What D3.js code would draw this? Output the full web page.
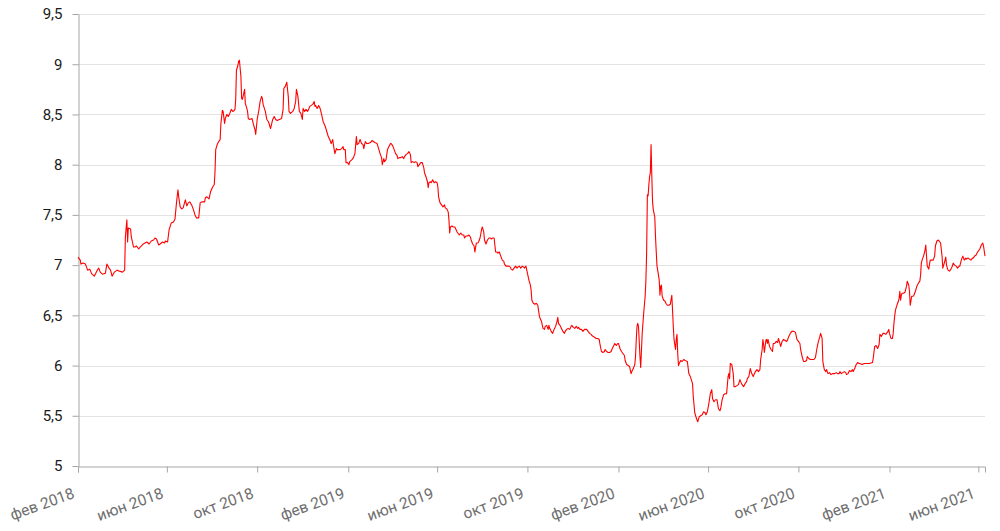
<!DOCTYPE html>
<html><head><meta charset="utf-8">
<script src="https://cdn.jsdelivr.net/npm/d3@7"></script>
<style>body{margin:0;background:#fff}svg{display:block}</style>
</head><body><svg id="c" width="1000" height="531"></svg>
<script>
const d2018=[["2018-02-01",7.08],["2018-02-04",7.05],["2018-02-05",7.01],["2018-02-08",7.02],["2018-02-11",7.01],["2018-02-14",6.95],["2018-02-17",6.96],["2018-02-19",6.92],["2018-02-20",6.91],["2018-02-23",6.89],["2018-02-27",6.95],["2018-03-01",6.97],["2018-03-03",6.93],["2018-03-06",6.91],["2018-03-10",6.92],["2018-03-12",7.01],["2018-03-15",6.97],["2018-03-17",6.95],["2018-03-19",6.89],["2018-03-22",6.93],["2018-03-26",6.95],["2018-03-29",6.94],["2018-04-02",6.93],["2018-04-05",6.95],["2018-04-06",7.28],["2018-04-08",7.45],["2018-04-09",7.23],["2018-04-10",7.37],["2018-04-13",7.36],["2018-04-14",7.28],["2018-04-17",7.18],["2018-04-19",7.18],["2018-04-21",7.19],["2018-04-24",7.16],["2018-04-26",7.18],["2018-04-30",7.21],["2018-05-05",7.23],["2018-05-08",7.21],["2018-05-11",7.24],["2018-05-14",7.25],["2018-05-16",7.27],["2018-05-18",7.26],["2018-05-21",7.2],["2018-05-23",7.21],["2018-05-26",7.23],["2018-05-29",7.22],["2018-05-30",7.24],["2018-06-02",7.23],["2018-06-04",7.35],["2018-06-07",7.42],["2018-06-10",7.43],["2018-06-12",7.46],["2018-06-14",7.62],["2018-06-16",7.75],["2018-06-17",7.68],["2018-06-19",7.58],["2018-06-21",7.56],["2018-06-23",7.57],["2018-06-26",7.65],["2018-06-28",7.59],["2018-06-30",7.62],["2018-07-02",7.63],["2018-07-05",7.59],["2018-07-07",7.55],["2018-07-09",7.5],["2018-07-11",7.47],["2018-07-14",7.47],["2018-07-16",7.62],["2018-07-18",7.63],["2018-07-22",7.63],["2018-07-23",7.67],["2018-07-25",7.68],["2018-07-28",7.66],["2018-07-30",7.73],["2018-08-02",7.78],["2018-08-04",7.8],["2018-08-05",7.92],["2018-08-06",8.15],["2018-08-08",8.2],["2018-08-10",8.23],["2018-08-12",8.25],["2018-08-13",8.41],["2018-08-15",8.54],["2018-08-16",8.53],["2018-08-18",8.41],["2018-08-19",8.46],["2018-08-21",8.5],["2018-08-23",8.48],["2018-08-25",8.51],["2018-08-27",8.55],["2018-08-29",8.53],["2018-08-31",8.54],["2018-09-01",8.55],["2018-09-02",8.65],["2018-09-03",8.94],["2018-09-05",8.99],["2018-09-06",9.03],["2018-09-07",9.04],["2018-09-09",8.88],["2018-09-10",8.66],["2018-09-11",8.65],["2018-09-12",8.68],["2018-09-14",8.75],["2018-09-15",8.61],["2018-09-17",8.56],["2018-09-18",8.53],["2018-09-19",8.46],["2018-09-21",8.45],["2018-09-24",8.46],["2018-09-26",8.4],["2018-09-28",8.35],["2018-09-29",8.3],["2018-10-01",8.45],["2018-10-03",8.53],["2018-10-05",8.63],["2018-10-07",8.68],["2018-10-08",8.66],["2018-10-09",8.6],["2018-10-12",8.53],["2018-10-14",8.45],["2018-10-16",8.43],["2018-10-17",8.41],["2018-10-19",8.36],["2018-10-22",8.45],["2018-10-24",8.48],["2018-10-26",8.45],["2018-10-28",8.44],["2018-10-31",8.45],["2018-11-03",8.46],["2018-11-05",8.55],["2018-11-06",8.76],["2018-11-08",8.78],["2018-11-10",8.82],["2018-11-12",8.68],["2018-11-13",8.53],["2018-11-15",8.51],["2018-11-18",8.53],["2018-11-20",8.56],["2018-11-22",8.63],["2018-11-23",8.75],["2018-11-25",8.68],["2018-11-27",8.53],["2018-11-29",8.51],["2018-12-01",8.45],["2018-12-02",8.56],["2018-12-04",8.53],["2018-12-06",8.55],["2018-12-08",8.53],["2018-12-10",8.56],["2018-12-11",8.58],["2018-12-13",8.59],["2018-12-15",8.6],["2018-12-17",8.63],["2018-12-18",8.58],["2018-12-19",8.59],["2018-12-21",8.56],["2018-12-23",8.59],["2018-12-25",8.56],["2018-12-27",8.5],["2018-12-29",8.43]];

const d2019=[["2019-01-01",8.38],["2019-01-03",8.33],["2019-01-05",8.28],["2019-01-07",8.25],["2019-01-09",8.21],["2019-01-11",8.25],["2019-01-13",8.15],["2019-01-14",8.11],["2019-01-16",8.16],["2019-01-17",8.15],["2019-01-19",8.15],["2019-01-21",8.15],["2019-01-23",8.16],["2019-01-25",8.18],["2019-01-26",8.15],["2019-01-28",8.15],["2019-01-29",8.02],["2019-01-31",8.02],["2019-02-02",8.0],["2019-02-03",8.03],["2019-02-06",8.05],["2019-02-08",8.07],["2019-02-10",8.11],["2019-02-12",8.28],["2019-02-13",8.2],["2019-02-15",8.21],["2019-02-17",8.25],["2019-02-19",8.21],["2019-02-21",8.2],["2019-02-22",8.16],["2019-02-24",8.23],["2019-02-26",8.21],["2019-02-28",8.21],["2019-03-03",8.22],["2019-03-05",8.24],["2019-03-07",8.23],["2019-03-09",8.22],["2019-03-12",8.21],["2019-03-14",8.16],["2019-03-16",8.11],["2019-03-18",8.07],["2019-03-19",8.0],["2019-03-21",8.06],["2019-03-22",8.03],["2019-03-24",8.05],["2019-03-26",8.15],["2019-03-28",8.18],["2019-03-30",8.21],["2019-03-31",8.21],["2019-04-02",8.19],["2019-04-04",8.15],["2019-04-06",8.11],["2019-04-08",8.09],["2019-04-09",8.06],["2019-04-11",8.07],["2019-04-13",8.07],["2019-04-15",8.08],["2019-04-17",8.06],["2019-04-18",8.08],["2019-04-20",8.1],["2019-04-22",8.11],["2019-04-24",8.13],["2019-04-26",8.1],["2019-04-27",8.02],["2019-04-29",8.03],["2019-05-01",8.02],["2019-05-03",8.03],["2019-05-05",8.02],["2019-05-06",7.98],["2019-05-08",8.0],["2019-05-10",8.02],["2019-05-12",8.02],["2019-05-14",7.97],["2019-05-15",7.92],["2019-05-17",7.88],["2019-05-19",7.83],["2019-05-20",7.77],["2019-05-21",7.82],["2019-05-23",7.83],["2019-05-24",7.82],["2019-05-26",7.85],["2019-05-28",7.82],["2019-05-30",7.83],["2019-06-01",7.82],["2019-06-02",7.78],["2019-06-03",7.68],["2019-06-05",7.62],["2019-06-07",7.6],["2019-06-09",7.58],["2019-06-11",7.6],["2019-06-12",7.57],["2019-06-14",7.56],["2019-06-16",7.53],["2019-06-17",7.45],["2019-06-18",7.32],["2019-06-19",7.38],["2019-06-21",7.39],["2019-06-23",7.38],["2019-06-25",7.38],["2019-06-28",7.33],["2019-06-29",7.32],["2019-07-01",7.3],["2019-07-03",7.32],["2019-07-05",7.3],["2019-07-07",7.3],["2019-07-08",7.27],["2019-07-10",7.29],["2019-07-12",7.29],["2019-07-14",7.3],["2019-07-16",7.28],["2019-07-17",7.25],["2019-07-19",7.21],["2019-07-21",7.19],["2019-07-22",7.13],["2019-07-24",7.22],["2019-07-26",7.22],["2019-07-27",7.23],["2019-07-29",7.27],["2019-07-31",7.35],["2019-08-01",7.38],["2019-08-03",7.33],["2019-08-04",7.25],["2019-08-06",7.21],["2019-08-08",7.25],["2019-08-10",7.27],["2019-08-12",7.27],["2019-08-13",7.26],["2019-08-15",7.27],["2019-08-17",7.27],["2019-08-19",7.13],["2019-08-21",7.13],["2019-08-22",7.12],["2019-08-24",7.13],["2019-08-26",7.09],["2019-08-28",7.05],["2019-08-30",7.04],["2019-08-31",7.01],["2019-09-02",6.99],["2019-09-04",6.99],["2019-09-06",6.99],["2019-09-08",6.98],["2019-09-09",6.96],["2019-09-11",6.95],["2019-09-13",6.97],["2019-09-15",6.99],["2019-09-17",6.97],["2019-09-18",6.98],["2019-09-20",6.99],["2019-09-22",6.97],["2019-09-24",6.99],["2019-09-26",6.98],["2019-09-27",6.97],["2019-09-29",6.99],["2019-10-01",6.92],["2019-10-03",6.85],["2019-10-05",6.8],["2019-10-06",6.75],["2019-10-07",6.65],["2019-10-09",6.62],["2019-10-11",6.61],["2019-10-13",6.62],["2019-10-15",6.6],["2019-10-16",6.55],["2019-10-17",6.5],["2019-10-18",6.47],["2019-10-20",6.44],["2019-10-22",6.37],["2019-10-24",6.36],["2019-10-25",6.39],["2019-10-27",6.4],["2019-10-29",6.36],["2019-10-30",6.4],["2019-10-31",6.37],["2019-11-01",6.36],["2019-11-02",6.34],["2019-11-04",6.32],["2019-11-06",6.36],["2019-11-08",6.39],["2019-11-10",6.44],["2019-11-11",6.48],["2019-11-12",6.42],["2019-11-14",6.4],["2019-11-16",6.37],["2019-11-18",6.34],["2019-11-20",6.32],["2019-11-21",6.34],["2019-11-23",6.36],["2019-11-25",6.37],["2019-11-27",6.36],["2019-11-29",6.39],["2019-11-30",6.4],["2019-12-02",6.38],["2019-12-04",6.37],["2019-12-06",6.39],["2019-12-08",6.37],["2019-12-09",6.38],["2019-12-11",6.36],["2019-12-13",6.36],["2019-12-15",6.34],["2019-12-17",6.36],["2019-12-18",6.36],["2019-12-20",6.36],["2019-12-22",6.34],["2019-12-24",6.32],["2019-12-26",6.31],["2019-12-27",6.3],["2019-12-29",6.29],["2019-12-31",6.28]];

const d2020=[["2020-01-02",6.27],["2020-01-04",6.27],["2020-01-06",6.26],["2020-01-07",6.21],["2020-01-09",6.14],["2020-01-11",6.13],["2020-01-13",6.14],["2020-01-14",6.16],["2020-01-16",6.14],["2020-01-18",6.13],["2020-01-20",6.13],["2020-01-22",6.14],["2020-01-23",6.16],["2020-01-25",6.19],["2020-01-27",6.22],["2020-01-29",6.2],["2020-01-31",6.22],["2020-02-01",6.22],["2020-02-03",6.17],["2020-02-05",6.14],["2020-02-07",6.12],["2020-02-09",6.1],["2020-02-10",6.05],["2020-02-12",6.01],["2020-02-14",6.0],["2020-02-16",5.99],["2020-02-18",5.92],["2020-02-19",5.94],["2020-02-21",5.97],["2020-02-23",6.01],["2020-02-24",6.09],["2020-02-25",6.26],["2020-02-26",6.39],["2020-02-27",6.42],["2020-02-28",6.39],["2020-03-01",6.09],["2020-03-02",5.98],["2020-03-04",6.32],["2020-03-06",6.52],["2020-03-08",6.69],["2020-03-09",6.85],["2020-03-10",7.12],["2020-03-11",7.7],["2020-03-12",7.69],["2020-03-13",7.8],["2020-03-14",7.88],["2020-03-15",7.92],["2020-03-16",8.2],["2020-03-17",7.88],["2020-03-18",7.63],["2020-03-19",7.55],["2020-03-21",7.48],["2020-03-22",7.28],["2020-03-23",7.13],["2020-03-24",6.99],["2020-03-26",6.9],["2020-03-27",6.85],["2020-03-28",6.7],["2020-03-29",6.79],["2020-03-30",6.8],["2020-03-31",6.69],["2020-04-02",6.65],["2020-04-04",6.64],["2020-04-05",6.62],["2020-04-07",6.6],["2020-04-09",6.6],["2020-04-11",6.61],["2020-04-13",6.7],["2020-04-14",6.55],["2020-04-15",6.39],["2020-04-16",6.26],["2020-04-18",6.16],["2020-04-19",6.26],["2020-04-20",6.31],["2020-04-21",6.12],["2020-04-22",6.0],["2020-04-23",6.02],["2020-04-25",6.05],["2020-04-27",6.04],["2020-04-29",6.06],["2020-05-01",6.05],["2020-05-04",6.04],["2020-05-06",5.92],["2020-05-08",5.89],["2020-05-11",5.82],["2020-05-12",5.69],["2020-05-14",5.53],["2020-05-16",5.48],["2020-05-18",5.44],["2020-05-20",5.49],["2020-05-22",5.5],["2020-05-24",5.51],["2020-05-26",5.54],["2020-05-28",5.53],["2020-05-29",5.51],["2020-05-31",5.54],["2020-06-02",5.62],["2020-06-04",5.72],["2020-06-06",5.76],["2020-06-07",5.67],["2020-06-09",5.64],["2020-06-11",5.66],["2020-06-13",5.66],["2020-06-15",5.57],["2020-06-17",5.55],["2020-06-18",5.57],["2020-06-20",5.66],["2020-06-22",5.71],["2020-06-24",5.72],["2020-06-26",5.72],["2020-06-28",5.89],["2020-06-29",5.92],["2020-06-30",5.87],["2020-07-01",6.02],["2020-07-03",6.01],["2020-07-05",5.92],["2020-07-06",5.79],["2020-07-08",5.79],["2020-07-10",5.8],["2020-07-12",5.81],["2020-07-14",5.86],["2020-07-15",5.84],["2020-07-17",5.81],["2020-07-19",5.79],["2020-07-21",5.82],["2020-07-23",5.84],["2020-07-24",5.87],["2020-07-26",5.89],["2020-07-28",5.97],["2020-07-30",5.92],["2020-08-01",5.89],["2020-08-02",5.91],["2020-08-04",5.94],["2020-08-06",5.96],["2020-08-08",5.94],["2020-08-10",5.96],["2020-08-11",6.06],["2020-08-13",6.16],["2020-08-14",6.26],["2020-08-15",6.21],["2020-08-16",6.13],["2020-08-18",6.25],["2020-08-19",6.26],["2020-08-20",6.22],["2020-08-21",6.26],["2020-08-23",6.19],["2020-08-25",6.16],["2020-08-27",6.14],["2020-08-28",6.22],["2020-08-30",6.22],["2020-09-01",6.24],["2020-09-03",6.23],["2020-09-04",6.27],["2020-09-06",6.22],["2020-09-07",6.19],["2020-09-09",6.24],["2020-09-11",6.26],["2020-09-13",6.25],["2020-09-15",6.24],["2020-09-16",6.25],["2020-09-18",6.29],["2020-09-20",6.32],["2020-09-22",6.34],["2020-09-24",6.34],["2020-09-25",6.34],["2020-09-27",6.33],["2020-09-29",6.26],["2020-10-01",6.24],["2020-10-03",6.22],["2020-10-04",6.16],["2020-10-06",6.09],["2020-10-08",6.04],["2020-10-10",6.04],["2020-10-12",6.05],["2020-10-13",6.09],["2020-10-15",6.07],["2020-10-17",6.06],["2020-10-19",6.06],["2020-10-21",6.06],["2020-10-22",6.06],["2020-10-24",6.08],["2020-10-26",6.17],["2020-10-28",6.24],["2020-10-30",6.29],["2020-10-31",6.32],["2020-11-02",6.27],["2020-11-03",6.04],["2020-11-05",5.96],["2020-11-07",5.94],["2020-11-08",5.96],["2020-11-10",5.92],["2020-11-12",5.93],["2020-11-14",5.91],["2020-11-16",5.92],["2020-11-17",5.92],["2020-11-19",5.92],["2020-11-21",5.93],["2020-11-23",5.92],["2020-11-25",5.92],["2020-11-26",5.94],["2020-11-28",5.92],["2020-11-30",5.93],["2020-12-02",5.94],["2020-12-04",5.93],["2020-12-05",5.91],["2020-12-07",5.92],["2020-12-09",5.95],["2020-12-11",5.94],["2020-12-13",5.96],["2020-12-14",5.94],["2020-12-16",5.97],["2020-12-18",6.01],["2020-12-20",6.03],["2020-12-22",6.02],["2020-12-23",6.02],["2020-12-26",6.01],["2020-12-29",6.02]];

const d2021=[["2021-01-01",6.02],["2021-01-05",6.02],["2021-01-09",6.03],["2021-01-10",6.07],["2021-01-12",6.19],["2021-01-14",6.2],["2021-01-16",6.17],["2021-01-18",6.21],["2021-01-19",6.31],["2021-01-21",6.29],["2021-01-23",6.32],["2021-01-25",6.32],["2021-01-27",6.31],["2021-01-28",6.32],["2021-01-30",6.34],["2021-01-31",6.36],["2021-02-01",6.32],["2021-02-03",6.27],["2021-02-05",6.27],["2021-02-06",6.32],["2021-02-07",6.42],["2021-02-08",6.49],["2021-02-09",6.55],["2021-02-11",6.6],["2021-02-13",6.64],["2021-02-14",6.67],["2021-02-15",6.74],["2021-02-16",6.65],["2021-02-17",6.7],["2021-02-18",6.72],["2021-02-20",6.72],["2021-02-22",6.73],["2021-02-24",6.79],["2021-02-25",6.84],["2021-02-27",6.8],["2021-02-28",6.74],["2021-03-01",6.6],["2021-03-03",6.69],["2021-03-05",6.69],["2021-03-06",6.7],["2021-03-08",6.74],["2021-03-10",6.79],["2021-03-12",6.82],["2021-03-14",6.84],["2021-03-15",6.9],["2021-03-16",7.02],["2021-03-17",7.05],["2021-03-19",7.09],["2021-03-21",7.15],["2021-03-22",7.2],["2021-03-23",7.09],["2021-03-24",6.99],["2021-03-26",6.96],["2021-03-28",7.05],["2021-03-30",7.05],["2021-04-01",7.05],["2021-04-03",7.09],["2021-04-04",7.19],["2021-04-06",7.24],["2021-04-08",7.25],["2021-04-10",7.23],["2021-04-11",7.22],["2021-04-13",7.09],["2021-04-14",6.97],["2021-04-16",7.02],["2021-04-18",7.08],["2021-04-19",7.0],["2021-04-21",6.95],["2021-04-23",6.94],["2021-04-25",6.96],["2021-04-27",6.99],["2021-04-28",7.02],["2021-04-30",7.0],["2021-05-02",6.99],["2021-05-04",6.97],["2021-05-06",6.99],["2021-05-07",6.99],["2021-05-09",7.05],["2021-05-11",7.09],["2021-05-13",7.05],["2021-05-15",7.07],["2021-05-16",7.06],["2021-05-18",7.07],["2021-05-20",7.06],["2021-05-22",7.05],["2021-05-24",7.07],["2021-05-25",7.07],["2021-05-27",7.09],["2021-05-29",7.1],["2021-05-31",7.13],["2021-06-02",7.15],["2021-06-03",7.16],["2021-06-05",7.2],["2021-06-07",7.22],["2021-06-08",7.19],["2021-06-10",7.09]];

const yTicks=[5,5.5,6,6.5,7,7.5,8,8.5,9,9.5];
const xTickDates=["2018-02-01","2018-06-01","2018-10-01","2019-02-01","2019-06-01","2019-10-01","2020-02-01","2020-06-01","2020-10-01","2021-02-01","2021-06-01"];
const xTickLabels=["фев 2018","июн 2018","окт 2018","фев 2019","июн 2019","окт 2019","фев 2020","июн 2020","окт 2020","фев 2021","июн 2021"];
const domainStart="2018-02-01", domainEnd="2021-06-10";

const parse=d3.timeParse("%Y-%m-%d");
const data=[...d2018,...d2019,...d2020,...d2021].map(([d,v])=>({date:parse(d),value:v}));
const svg=d3.select("#c");
const L=78,R=985,T=14,B=466;
const x=d3.scaleTime().domain([parse(domainStart),parse(domainEnd)]).range([L,R]);
const y=d3.scaleLinear().domain([5,9.5]).range([B,T]);

// gridlines
svg.append("g").selectAll("line").data(yTicks.slice(1)).join("line")
  .attr("x1",L).attr("x2",R)
  .attr("y1",d=>Math.round(y(d))+0.5).attr("y2",d=>Math.round(y(d))+0.5)
  .attr("stroke","#e3e3e3").attr("stroke-width",1);

// y axis
const yAxis=svg.append("g").attr("transform",`translate(${L+0.5},0)`)
  .call(d3.axisLeft(y).tickValues(yTicks).tickSize(6).tickSizeOuter(0).tickPadding(10)
    .tickFormat(d=>String(d).replace(".",",")));
yAxis.select(".domain").attr("stroke","#a6a6a6");
yAxis.selectAll(".tick line").attr("stroke","#a6a6a6");
yAxis.selectAll(".tick text").attr("fill","#1a1a1a").style("font-family","Roboto, 'Noto Sans', sans-serif").style("font-size","15px");

// x axis
const xAxis=svg.append("g").attr("transform",`translate(0,${B+0.5})`)
  .call(d3.axisBottom(x).tickValues(xTickDates.map(parse)).tickSize(6).tickSizeOuter(6)
    .tickFormat((d,i)=>xTickLabels[i]));
xAxis.select(".domain").attr("stroke","#a6a6a6");
xAxis.selectAll(".tick line").attr("stroke","#a6a6a6");
xAxis.selectAll(".tick text")
  .attr("y",0).attr("dy",0).attr("text-anchor","end")
  .attr("transform","translate(-3,31) rotate(-20)")
  .attr("fill","#6e6e6e").style("font-family","Roboto, 'Noto Sans', sans-serif").style("font-size","15.5px");

// line
const line=d3.line().x(d=>x(d.date)).y(d=>y(d.value));
svg.append("path").datum(data).attr("d",line)
  .attr("fill","none").attr("stroke","#ff0000").attr("stroke-width",1.1).attr("stroke-linejoin","round");
</script>
</body></html>
